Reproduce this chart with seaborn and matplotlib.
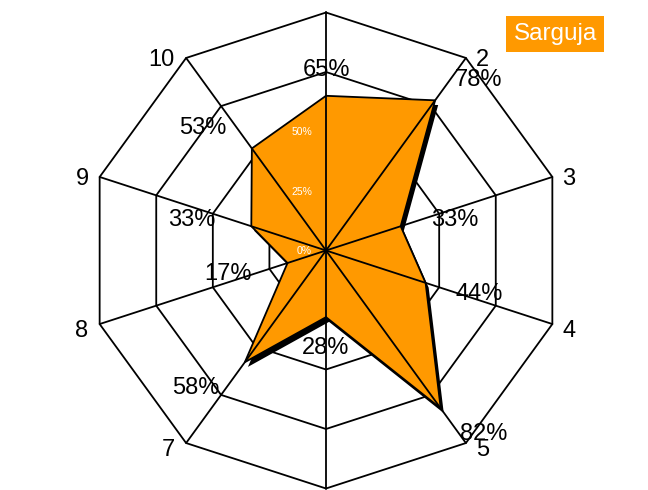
import numpy as np
import pandas as pd
import matplotlib
matplotlib.use("Agg")
import matplotlib.pyplot as plt
import matplotlib.patheffects as pe
import seaborn as sns

# chart data
axis_labels = ["1", "2", "3", "4", "5", "6", "7", "8", "9", "10"]
values = [65, 78, 33, 44, 82, 28, 58, 17, 33, 53]
grid_levels = [25, 50, 75, 100]
tick_levels = [0, 25, 50]
tick_labels = ["0%", "25%", "50%"]
series_name = "Sarguja"

sns.set_theme(style="white")
plt.rcParams['font.family'] = ['Liberation Sans', 'DejaVu Sans']

n = len(axis_labels)
theta = 2 * np.pi * np.arange(n) / n
sx = np.sin(theta)
cy = np.cos(theta)

fig = plt.figure(figsize=(6.48, 4.90), dpi=100)
ax = fig.add_axes([0, 0, 1, 1])
ax.set_axis_off()

# rings of the web
rows = []
for lev in grid_levels:
    r = lev / 100
    for i in list(range(n)) + [0]:
        rows.append({"level": lev, "x": r * sx[i], "y": r * cy[i]})
rings = pd.DataFrame(rows)
sns.lineplot(data=rings, x="x", y="y", units="level", estimator=None, sort=False,
             color="black", lw=1.3, ax=ax, zorder=1)

# the series polygon with a black drop shadow
r_val = np.array(values) / 100
ax.fill(r_val * sx, r_val * cy, facecolor="#FF9900", edgecolor="black", lw=1.3, zorder=2,
        path_effects=[pe.withSimplePatchShadow(offset=(2.2, -3.4), shadow_rgbFace="black", alpha=1.0)])

# spokes
rows = []
for i in range(n):
    rows.append({"spoke": i, "x": 0, "y": 0})
    rows.append({"spoke": i, "x": sx[i], "y": cy[i]})
spokes = pd.DataFrame(rows)
sns.lineplot(data=spokes, x="x", y="y", units="spoke", estimator=None, sort=False,
             color="black", lw=1.3, ax=ax, zorder=3)

# value labels
for i in range(n):
    r = values[i] / 100 + 0.12
    if i == 0 or i == n // 2:
        ha, dx = "center", 0
    elif i < n // 2:
        ha, dx = "left", 2
    else:
        ha, dx = "right", -6
    ax.annotate(f"{values[i]}%", (r * sx[i], r * cy[i]), xytext=(dx, 0), textcoords="offset points",
                ha=ha, va="center_baseline", fontsize=17, color="black", zorder=4)

# axis labels (1 and 6 sit outside the canvas, so they are left out)
for i in range(n):
    if i == 0 or i == n // 2:
        continue
    dy = -3.5 if cy[i] < -0.1 else 0
    if i < n // 2:
        ha, dx = "left", 7
    else:
        ha, dx = "right", -8
    ax.annotate(axis_labels[i], (sx[i], cy[i]), xytext=(dx, dy), textcoords="offset points",
                ha=ha, va="center_baseline", fontsize=17, color="black", zorder=4)

# grid level labels (white)
for lev, lab in zip(tick_levels, tick_labels):
    ax.annotate(lab, (0, lev / 100), xytext=(-10, 0), textcoords="offset points",
                ha="right", va="center_baseline", fontsize=7.5, color="white", zorder=5)

# centre at pixel (326, 250.5), 100% = 238 px
ax.set_xlim(-326 / 238, (648 - 326) / 238)
ax.set_ylim(-(490 - 250.5) / 238, 250.5 / 238)

# legend box
fig.text(0.857, 0.931, series_name, color="white", fontsize=17.5, ha="center", va="center",
         bbox=dict(boxstyle="square,pad=0.3", facecolor="#FF9900", edgecolor="none"))

fig.savefig("out.png", dpi=100)
